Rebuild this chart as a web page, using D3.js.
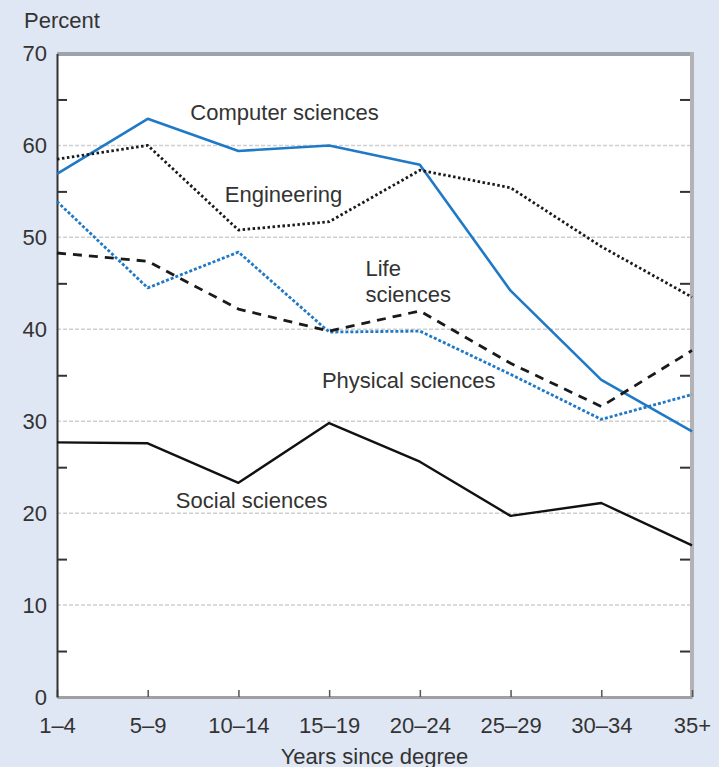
<!DOCTYPE html>
<html>
<head>
<meta charset="utf-8">
<script src="https://cdn.jsdelivr.net/npm/d3@7"></script>
<style>
  body { margin: 0; background: #e0e7f4; }
  svg { display: block; font-family: "Liberation Sans", Arial, sans-serif; }
</style>
</head>
<body>
<div id="chart"></div>
<script>
// categories on the x axis
var categories = ["1\u20134", "5\u20139", "10\u201314", "15\u201319", "20\u201324", "25\u201329", "30\u201334", "35+"];

// series values (percent)
var computerSciences = [56.9, 62.9, 59.4, 60.0, 57.9, 44.2, 34.5, 28.9];
var engineering      = [58.5, 60.0, 50.8, 51.7, 57.3, 55.4, 49.0, 43.5];
var lifeSciences     = [53.9, 44.5, 48.4, 39.7, 39.8, 35.1, 30.2, 32.9];
var physicalSciences = [48.3, 47.4, 42.2, 39.8, 42.0, 36.3, 31.6, 37.7];
var socialSciences   = [27.7, 27.6, 23.3, 29.8, 25.6, 19.7, 21.1, 16.5];

var yTicks = [0, 10, 20, 30, 40, 50, 60, 70];
var yMinor = [5, 15, 25, 35, 45, 55, 65];
var yGrid = [10, 20, 30, 40, 50, 60];

var series = [
  { name: "Computer sciences", values: computerSciences, color: "#1f79c6", dash: null, w: 2.6 },
  { name: "Engineering", values: engineering, color: "#1a1a1a", dash: "2.5,2.5", w: 2.8 },
  { name: "Life sciences", values: lifeSciences, color: "#1f79c6", dash: "3,2", w: 2.8 },
  { name: "Physical sciences", values: physicalSciences, color: "#1a1a1a", dash: "9,7", w: 2.8 },
  { name: "Social sciences", values: socialSciences, color: "#111", dash: null, w: 2.4 }
];

// label anchors: x as category index, y as percent (baseline)
var labels = [
  { text: ["Computer sciences"], x: 1.47, y: 62.8 },
  { text: ["Engineering"], x: 1.85, y: 53.9 },
  { text: ["Life", "sciences"], x: 3.40, y: 45.8 },
  { text: ["Physical sciences"], x: 2.92, y: 33.6 },
  { text: ["Social sciences"], x: 1.31, y: 20.6 }
];

var W = 719, H = 767;
var margin = { left: 57, right: 692, top: 53.5, bottom: 697 };

var svg = d3.select("#chart").append("svg")
  .attr("width", W)
  .attr("height", H);

var x = d3.scaleLinear().domain([0, categories.length - 1]).range([margin.left, margin.right]);
var y = d3.scaleLinear().domain([0, 70]).range([margin.bottom, margin.top]);

// plot area
svg.append("rect")
  .attr("x", margin.left).attr("y", y(70))
  .attr("width", margin.right - margin.left).attr("height", margin.bottom - y(70))
  .attr("fill", "#fff");

// gridlines
svg.append("g").selectAll("line")
  .data(yGrid)
  .enter().append("line")
  .attr("x1", margin.left).attr("x2", margin.right)
  .attr("y1", function(d) { return y(d); })
  .attr("y2", function(d) { return y(d); })
  .attr("stroke", "#cfcfcf")
  .attr("stroke-width", 1.5)
  .attr("stroke-dasharray", "4,2");

// frame: top, right
svg.append("line")
  .attr("x1", margin.left).attr("x2", margin.right + 2)
  .attr("y1", y(70) + 0.5).attr("y2", y(70) + 0.5)
  .attr("stroke", "#9ea2ac").attr("stroke-width", 4);
svg.append("line")
  .attr("x1", margin.right).attr("x2", margin.right)
  .attr("y1", y(70) - 1.5).attr("y2", margin.bottom)
  .attr("stroke", "#b3b3b3").attr("stroke-width", 4);

// x axis
var xAxis = svg.append("g")
  .attr("transform", "translate(0," + margin.bottom + ")")
  .call(d3.axisBottom(x)
    .tickValues(d3.range(categories.length))
    .tickFormat(function(i) { return categories[i]; })
    .tickSizeInner(-7)
    .tickSizeOuter(0)
    .tickPadding(20));
xAxis.select(".domain").attr("stroke", "#a0a0a0").attr("stroke-width", 3);
xAxis.selectAll(".tick line").attr("stroke", "#555").attr("stroke-width", 1.5);
xAxis.selectAll("text").attr("font-size", 22).attr("fill", "#333");

// y axis
var yAxis = svg.append("g")
  .attr("transform", "translate(" + margin.left + ",0)")
  .call(d3.axisLeft(y).tickValues(yTicks).tickSize(0).tickPadding(10));
yAxis.select(".domain").attr("stroke", "#333").attr("stroke-width", 2);
yAxis.selectAll("text").attr("font-size", 22).attr("fill", "#333");

// minor ticks, both sides pointing inward
var yMinorL = svg.append("g")
  .attr("transform", "translate(" + margin.left + ",0)")
  .call(d3.axisLeft(y).tickValues(yMinor).tickSize(-10).tickFormat(""));
yMinorL.select(".domain").remove();
yMinorL.selectAll(".tick line").attr("stroke", "#333").attr("stroke-width", 2);
var yMinorR = svg.append("g")
  .attr("transform", "translate(" + (margin.right - 2) + ",0)")
  .call(d3.axisRight(y).tickValues(yMinor).tickSize(-10).tickFormat(""));
yMinorR.select(".domain").remove();
yMinorR.selectAll(".tick line").attr("stroke", "#333").attr("stroke-width", 2);

// lines
var line = d3.line()
  .x(function(d, i) { return x(i); })
  .y(function(d) { return y(d); });

svg.append("g").selectAll("path")
  .data(series)
  .enter().append("path")
  .attr("d", function(d) { return line(d.values); })
  .attr("fill", "none")
  .attr("stroke", function(d) { return d.color; })
  .attr("stroke-width", function(d) { return d.w; })
  .attr("stroke-dasharray", function(d) { return d.dash; })
  .attr("stroke-linejoin", "round");

// series labels
var lab = svg.append("g").selectAll("text")
  .data(labels)
  .enter().append("text")
  .attr("x", function(d) { return x(d.x); })
  .attr("y", function(d) { return y(d.y); })
  .attr("font-size", 22)
  .attr("fill", "#333");
lab.selectAll("tspan")
  .data(function(d) { return d.text; })
  .enter().append("tspan")
  .attr("x", function() { return d3.select(this.parentNode).attr("x"); })
  .attr("dy", function(d, i) { return i ? 25.7 : 0; })
  .text(function(d) { return d; });

// axis titles
svg.append("text")
  .attr("x", 24).attr("y", 28)
  .attr("font-size", 22).attr("fill", "#333")
  .text("Percent");
svg.append("text")
  .attr("x", (margin.left + margin.right) / 2).attr("y", 764)
  .attr("text-anchor", "middle")
  .attr("font-size", 22).attr("fill", "#333")
  .text("Years since degree");
</script>
</body>
</html>
